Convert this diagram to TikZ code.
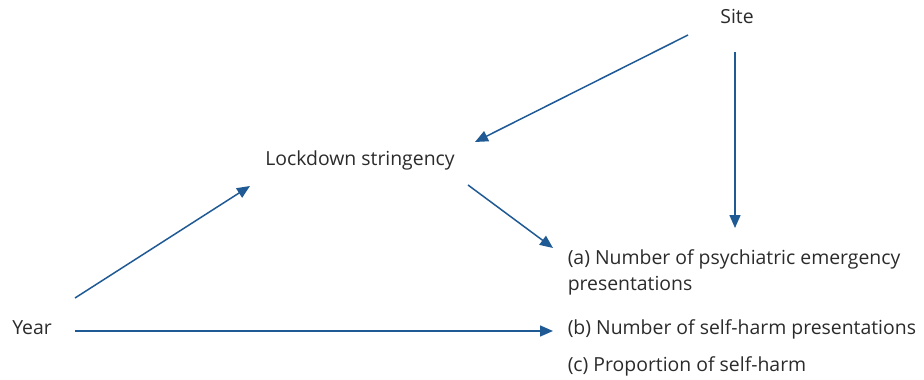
\documentclass[tikz,border=0pt]{standalone}
\usepackage{fontspec}
\setmainfont{Open Sans}
\usetikzlibrary{arrows.meta,positioning}
\definecolor{arrowblue}{HTML}{1F5A94}
\definecolor{textgrey}{HTML}{2B2B2B}
\begin{document}
\begin{tikzpicture}[x=1pt, y=-1pt, >={Triangle[length=13pt,width=11pt]}, line width=1.5pt]
\tikzstyle{every node}=[inner sep=0pt, text=textgrey, font=\fontsize{19.4}{26}\selectfont]
\tikzstyle{arr}=[->, draw=arrowblue, fill=arrowblue]
\useasboundingbox (0,0) rectangle (924,380);
\node (site)  at (737,16)           {Site};
\node (lock)  at (360,160)          {Lockdown stringency};
\node (year)  at (32,328)           {Year};
\node (outa)  [anchor=west, align=left] at (567,272) {(a) Number of psychiatric emergency\\presentations};
\node (outb)  [anchor=west] at (567,329) {(b) Number of self-harm presentations};
\node (outc)  [anchor=west] at (567,366) {(c) Proportion of self-harm};
\draw[arr] ([shift={(-49,19)}]site.center)  -- ([shift={(115,-18)}]lock.center);
\draw[arr] ([shift={(-2,36)}]site.center)   -- ([shift={(168,-44)}]outa.west);
\draw[arr] ([shift={(108,25)}]lock.center)  -- ([shift={(-14,-24)}]outa.west);
\draw[arr] ([shift={(43,-30)}]year.center)  -- ([shift={(-110,26)}]lock.center);
\draw[arr] ([shift={(43,3)}]year.center)    -- ([shift={(-14,2)}]outb.west);
\end{tikzpicture}
\end{document}
